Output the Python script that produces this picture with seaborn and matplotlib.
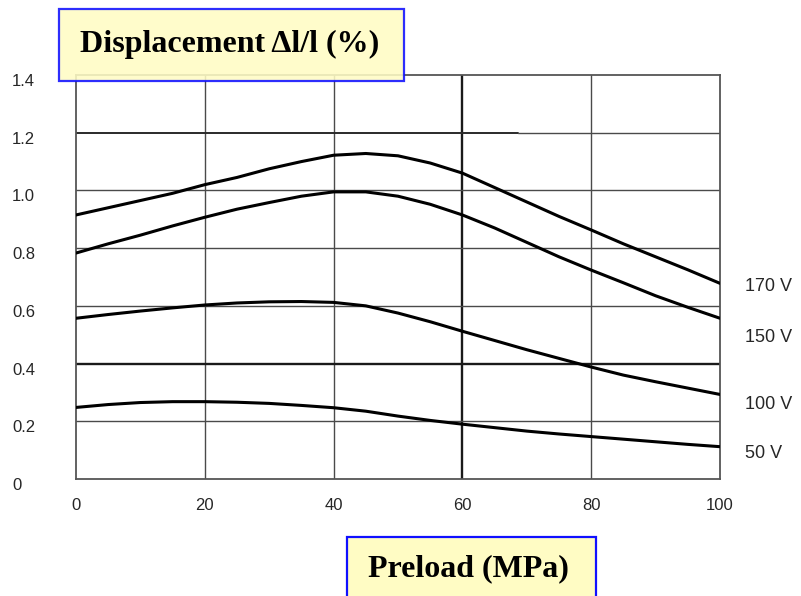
import numpy as np
import pandas as pd
import seaborn as sns
import matplotlib
matplotlib.use("Agg")
import matplotlib.pyplot as plt
from matplotlib.patches import Rectangle
from matplotlib.transforms import ScaledTranslation

# Preload (MPa) sample points
preload = [0, 5, 10, 15, 20, 25, 30, 35, 40, 45, 50,
           55, 60, 65, 70, 75, 80, 85, 90, 95, 100]

# Displacement (%) for each drive voltage
disp_170v = [0.915, 0.94, 0.965, 0.99, 1.02, 1.045, 1.075, 1.10, 1.122, 1.128, 1.12,
             1.095, 1.06, 1.01, 0.96, 0.91, 0.863, 0.815, 0.77, 0.725, 0.678]
disp_150v = [0.783, 0.815, 0.845, 0.877, 0.907, 0.935, 0.958, 0.98, 0.995, 0.995, 0.98,
             0.952, 0.915, 0.87, 0.82, 0.77, 0.724, 0.68, 0.635, 0.595, 0.557]
disp_100v = [0.557, 0.57, 0.582, 0.593, 0.603, 0.61, 0.614, 0.615, 0.612, 0.60, 0.575,
             0.545, 0.512, 0.48, 0.448, 0.418, 0.388, 0.36, 0.337, 0.315, 0.293]
disp_50v = [0.248, 0.258, 0.265, 0.268, 0.268, 0.266, 0.262, 0.255, 0.247, 0.235, 0.218,
            0.203, 0.19, 0.178, 0.166, 0.156, 0.147, 0.138, 0.129, 0.12, 0.112]

voltages = ["170 V", "150 V", "100 V", "50 V"]
x_ticks = [0, 20, 40, 60, 80, 100]
y_ticks = [0, 0.2, 0.4, 0.6, 0.8, 1.0, 1.2, 1.4]
y_tick_labels = ["0", "0.2", "0.4", "0.6", "0.8", "1.0", "1.2", "1.4"]

series = [disp_170v, disp_150v, disp_100v, disp_50v]
df = pd.concat(
    [pd.DataFrame({"Preload": preload, "Displacement": vals, "Voltage": v})
     for v, vals in zip(voltages, series)],
    ignore_index=True,
)

sns.set_theme(style="white")
plt.rcParams["font.family"] = ["Liberation Sans", "DejaVu Sans"]

fig = plt.figure(figsize=(8.01, 5.96), dpi=100)
W, H = 801, 596
ax = fig.add_axes([76 / W, 1 - 479 / H, 644 / W, 404 / H])

# grid
grid_c = "#4a4a4a"
for xv in [20, 40, 80]:
    ax.axvline(xv, color=grid_c, lw=1.0, zorder=1)
ax.axvline(60, color="#1a1a1a", lw=1.7, zorder=1)
for yv in [0.2, 0.6, 0.8, 1.0]:
    ax.axhline(yv, color=grid_c, lw=1.0, zorder=1)
ax.axhline(0.4, color="#1a1a1a", lw=1.7, zorder=1)
ax.axhline(1.2, xmin=0, xmax=0.687, color="#2a2a2a", lw=1.4, zorder=1)
ax.axhline(1.2, xmin=0.687, xmax=1, color=grid_c, lw=1.0, zorder=1)

sns.lineplot(data=df, x="Preload", y="Displacement", hue="Voltage",
             palette=["black"] * 4, lw=2.2, legend=False, ax=ax, zorder=3,
             solid_joinstyle="round")

ax.set_xlim(0, 100)
ax.set_ylim(0, 1.4)
ax.set_xticks(x_ticks)
ax.set_xticklabels([str(t) for t in x_ticks])
ax.set_yticks(y_ticks)
ax.set_yticklabels(y_tick_labels)
ax.set_xlabel("")
ax.set_ylabel("")
for s in ax.spines.values():
    s.set_color("#555555")
    s.set_linewidth(1.3)

ax.tick_params(axis="x", length=0, pad=14, labelsize=12, labelcolor="#262626")
ax.tick_params(axis="y", length=0, pad=46, labelsize=12, labelcolor="#262626")
for lab in ax.get_yticklabels():
    lab.set_horizontalalignment("left")
    lab.set_transform(lab.get_transform() + ScaledTranslation(0, -5 / 100, fig.dpi_scale_trans))

# curve labels at the right edge
label_offsets = [(25, -3), (25, -19), (25, -10), (25, -7)]
for v, vals, off in zip(voltages, series, label_offsets):
    ax.annotate(v, xy=(preload[-1], vals[-1]), xytext=off,
                textcoords="offset pixels", ha="left", va="center",
                fontsize=13, color="#262626", annotation_clip=False)

# title boxes
box_fc = "#fffcc4"
serif = ["Liberation Serif", "DejaVu Serif"]
fig.patches.append(Rectangle((59 / W, 1 - 81 / H), 345 / W, 72 / H,
                             transform=fig.transFigure, facecolor=box_fc,
                             edgecolor="#1010ff", lw=1.6, alpha=0.88, zorder=5))
fig.text(230 / W, 1 - 44 / H, "Displacement \u0394l/l (%)", ha="center", va="center",
         fontsize=23, fontweight="bold", family=serif, color="black", zorder=6)
fig.patches.append(Rectangle((347 / W, 1 - 600 / H), 249 / W, 63 / H,
                             transform=fig.transFigure, facecolor=box_fc,
                             edgecolor="#1010ff", lw=1.6, zorder=5))
fig.text(468 / W, 1 - 569 / H, "Preload (MPa)", ha="center", va="center",
         fontsize=23, fontweight="bold", family=serif, color="black", zorder=6)

fig.savefig("out.png", dpi=100)
